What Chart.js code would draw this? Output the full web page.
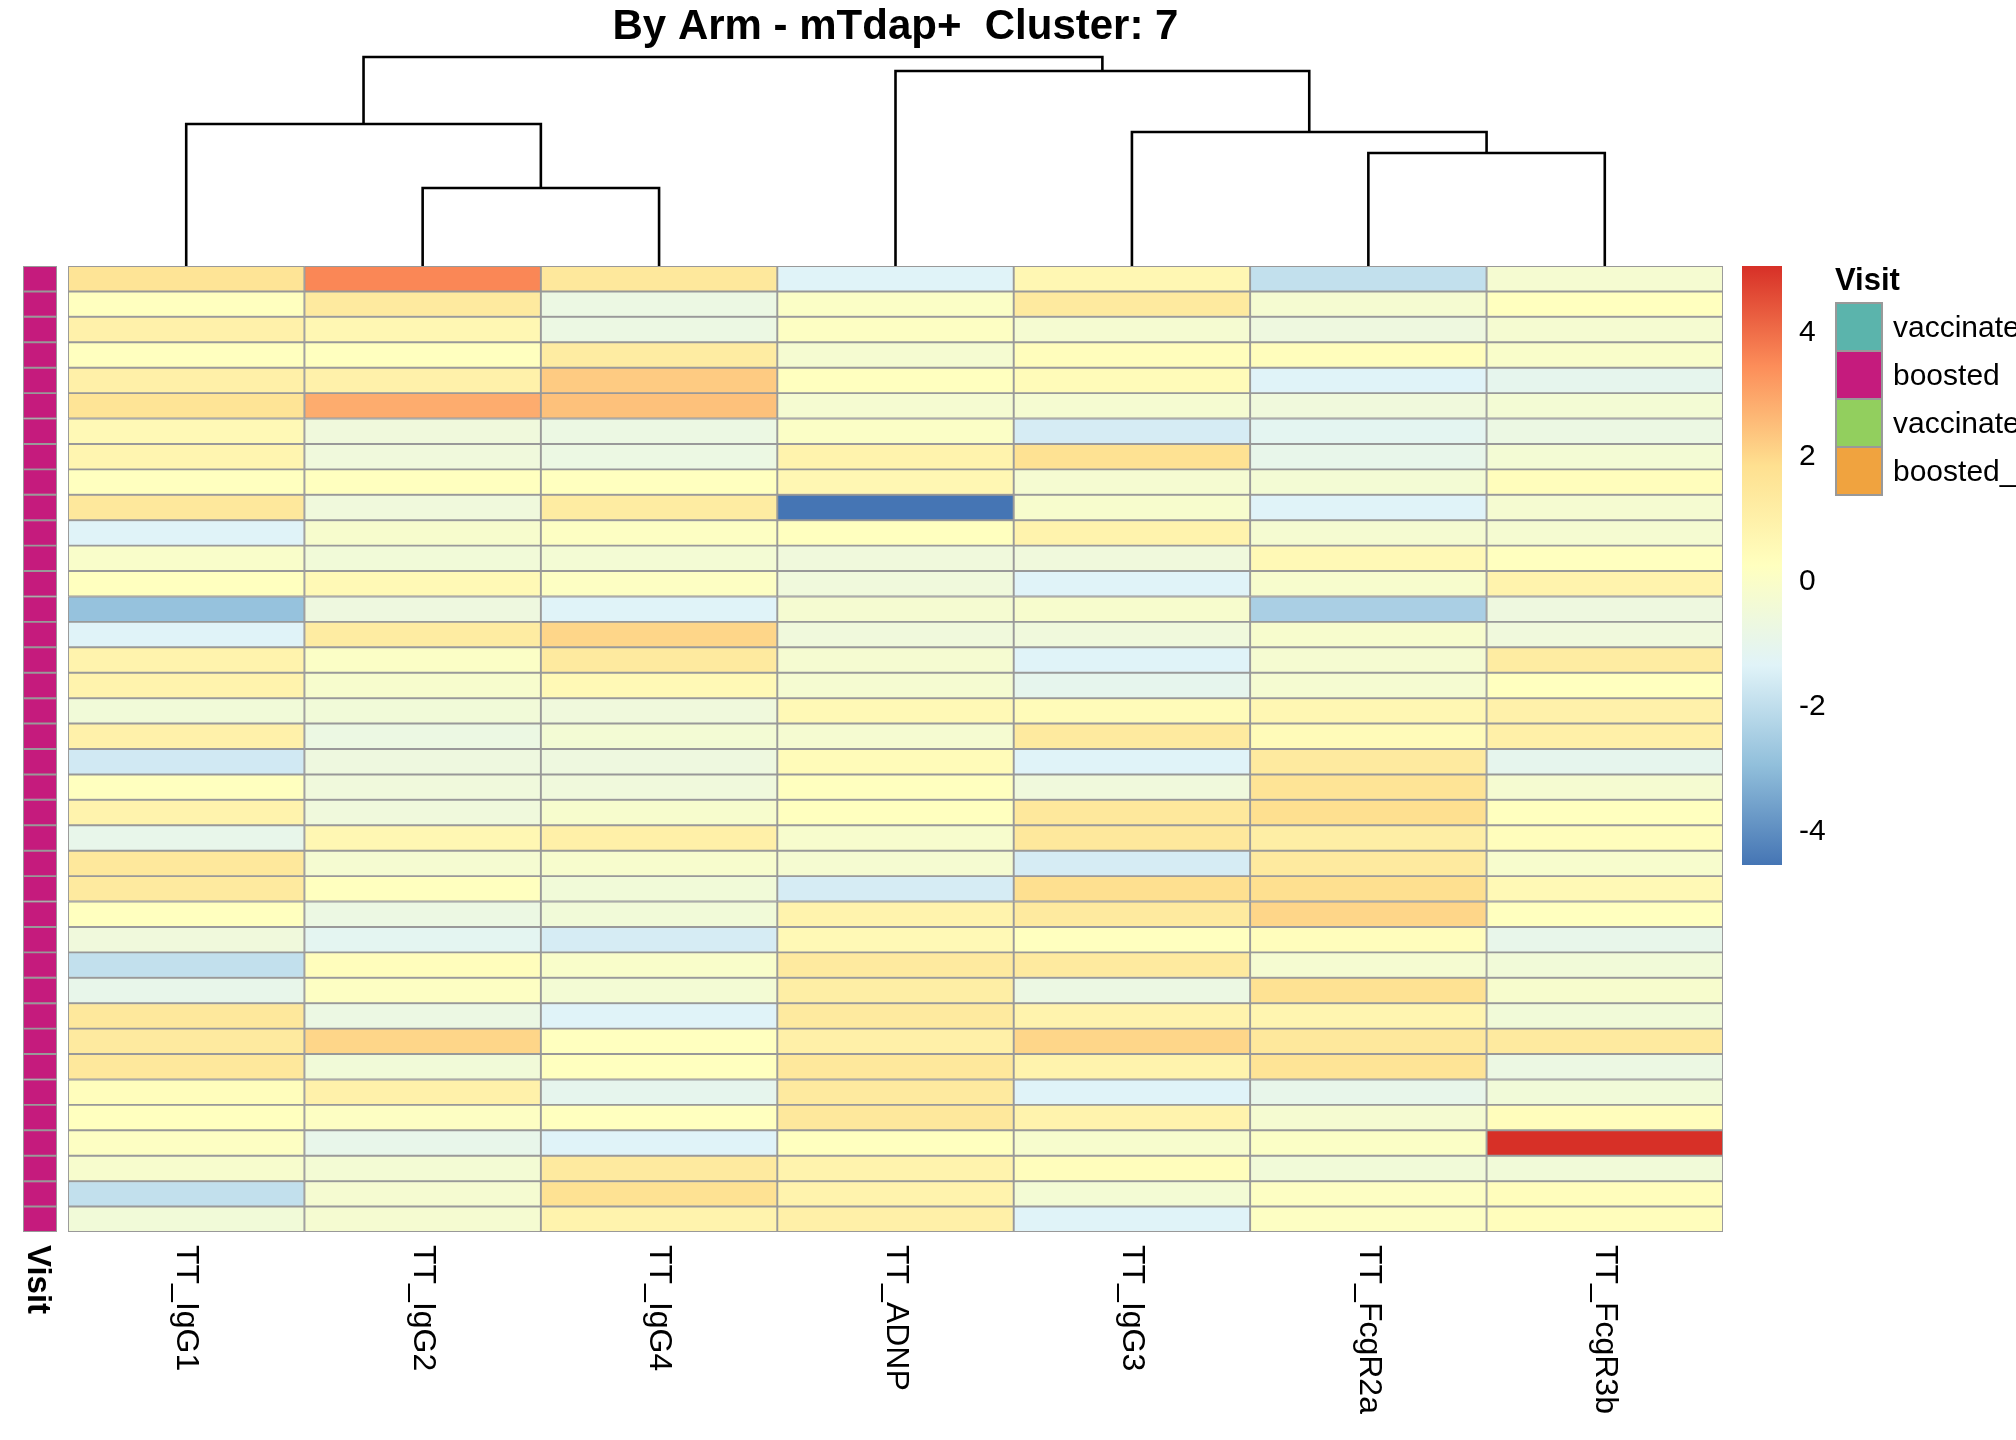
<!DOCTYPE html>
<html>
<head>
<meta charset="utf-8">
<title>By Arm - mTdap+ Cluster: 7</title>
<script src="https://cdn.jsdelivr.net/npm/chart.js@4.4.1/dist/chart.umd.min.js"></script>
<style>
  body { margin: 0; background: #fff; }
  #page {
    position: relative;
    width: 2016px;
    height: 1440px;
    overflow: hidden;
    font-family: 'Liberation Sans', Arial, sans-serif;
    color: #000;
  }
  canvas { position: absolute; }
  .legend-title { position: absolute; font-weight: bold; font-size: 31px; line-height: 38px; }
  .legend-box { position: absolute; width: 48px; height: 50px; box-sizing: border-box; border: 2px solid #999; }
  .legend-label { position: absolute; font-size: 30px; line-height: 36px; white-space: nowrap; }
</style>
</head>
<body>
<div id="page">
  <canvas id="dendro" width="1655" height="266" style="left:68px;top:0"></canvas>
  <canvas id="annot" width="68" height="1174" style="left:0;top:266px"></canvas>
  <canvas id="heat" width="1680" height="1174" style="left:60px;top:266px"></canvas>
  <canvas id="scale" width="110" height="620" style="left:1742px;top:266px"></canvas>
  <div id="legend"></div>
</div>
<script>
// column order as drawn (dendrogram leaf order)
const columns = ['TT_IgG1', 'TT_IgG2', 'TT_IgG4', 'TT_ADNP', 'TT_IgG3', 'TT_FcgR2a', 'TT_FcgR3b'];

// scaled values, one array per column, rows top to bottom
const ttIgG1 = [1.6, 0.2, 0.9, 0.2, 1.0, 1.6, 0.5, 0.7, 0.2, 1.4, -1.4, -0.1, 0.2, -2.9, -1.4, 0.8, 0.8, -0.5, 0.9,
  -1.7, 0.2, 0.8, -1.0, 1.4, 1.3, 0.2, -0.6, -2.0, -1.0, 1.4, 1.3, 1.4, 0.3, 0.2, 0.1, -0.2, -2.0, -0.5];
const ttIgG2 = [3.5, 1.3, 0.6, 0.2, 0.9, 2.8, -0.6, -0.6, 0.2, -0.6, -0.2, -0.5, 0.5, -0.7, 1.2, 0.0, -0.2, -0.5, -0.8,
  -0.7, -0.6, -0.6, 0.6, -0.3, 0.2, -0.8, -1.2, 0.3, 0.1, -0.8, 2.0, -0.5, 0.9, 0.1, -1.0, -0.4, -0.3, -0.3];
const ttIgG4 = [1.4, -0.8, -0.8, 1.2, 2.2, 2.4, -0.8, -0.8, 0.2, 1.2, 0.1, -0.4, 0.1, -1.4, 2.0, 1.3, 0.5, -0.6, -0.4,
  -0.7, -0.6, -0.2, 1.0, -0.2, -0.5, -0.5, -1.6, -0.1, -0.4, -1.4, 0.2, 0.2, -1.1, 0.2, -1.4, 1.3, 1.7, 0.8];
const ttADNP = [-1.4, 0.0, 0.1, -0.3, 0.2, -0.3, 0.0, 0.8, 0.6, -4.6, 0.2, -0.6, -0.6, -0.3, -0.6, -0.3, -0.3, 0.5, -0.3,
  0.4, 0.2, 0.2, -0.2, -0.3, -1.6, 0.8, 0.5, 1.3, 1.1, 1.3, 1.0, 1.4, 1.3, 1.4, 0.2, 0.8, 0.8, 1.0];
const ttIgG3 = [0.6, 1.3, -0.3, 0.3, 0.4, -0.3, -1.6, 1.7, -0.3, -0.2, 0.8, -0.6, -1.4, -0.2, -0.6, -1.4, -1.1, 0.4, 1.3,
  -1.4, -0.6, 1.4, 1.4, -1.6, 1.8, 1.3, 0.2, 1.3, -0.8, 0.8, 2.0, 0.8, -1.4, 0.8, -0.2, 0.3, -0.4, -1.4];
const ttFcgR2a = [-2.0, -0.3, -0.7, 0.3, -1.4, -0.6, -1.2, -1.0, -0.4, -1.4, -0.3, 0.5, -0.2, -2.5, -0.2, -0.3, -0.3, 0.6, 0.4,
  1.3, 1.6, 1.8, 1.1, 1.3, 1.8, 2.0, 0.3, -0.3, 1.7, 0.7, 1.4, 1.6, -1.0, -0.3, 0.0, -0.5, 0.1, 0.1];
const ttFcgR3b = [-0.3, 0.2, -0.3, -0.1, -1.1, -0.4, -0.8, -0.4, 0.3, -0.3, -0.3, 0.2, 0.8, -0.7, -0.6, 1.2, 0.2, 0.9, 1.0,
  -1.1, -0.3, 0.2, 0.3, -0.2, 0.5, 0.2, -1.0, -0.5, -0.2, -0.5, 1.3, -0.8, -0.5, 0.3, 5.0, -0.5, 0.3, 0.3];
const seriesByColumn = [ttIgG1, ttIgG2, ttIgG4, ttADNP, ttIgG3, ttFcgR2a, ttFcgR3b];

// row annotation
const visits = ['boosted', 'boosted', 'boosted', 'boosted', 'boosted', 'boosted', 'boosted', 'boosted',
  'boosted', 'boosted', 'boosted', 'boosted', 'boosted', 'boosted', 'boosted', 'boosted', 'boosted',
  'boosted', 'boosted', 'boosted', 'boosted', 'boosted', 'boosted', 'boosted', 'boosted', 'boosted',
  'boosted', 'boosted', 'boosted', 'boosted', 'boosted', 'boosted', 'boosted', 'boosted', 'boosted',
  'boosted', 'boosted', 'boosted'];
const visitLevels = ['vaccinated', 'boosted', 'vaccinated_2', 'boosted_2'];
const visitColors = ['#5BB4AC', '#C51B7D', '#92CF5E', '#F0A33F'];

// column dendrogram (hclust style: negative = leaf, positive = earlier merge)
const mergeLeft = [-2, -6, -5, -1, -4, 4];
const mergeRight = [-3, -7, 2, 1, 3, 5];
const mergeHeight = [78, 113, 134, 142, 195, 209];

// colour key
const colorTicks = [-4, -2, 0, 2, 4];
const palette = ['#4575B4', '#91BFDB', '#E0F3F8', '#FFFFBF', '#FEE090', '#FC8D59', '#D73027'];

const FONT = "'Liberation Sans', Arial, sans-serif";
Chart.defaults.font.family = FONT;
Chart.defaults.color = '#000';

const allValues = seriesByColumn.flat();
const colorMin = Math.min(...allValues);
const colorMax = Math.max(...allValues);

function hexToRgb(hex) {
  const n = parseInt(hex.slice(1), 16);
  return [(n >> 16) & 255, (n >> 8) & 255, n & 255];
}

function colorFor(v) {
  const t = (v - colorMin) / (colorMax - colorMin) * (palette.length - 1);
  const i = Math.max(0, Math.min(Math.floor(t), palette.length - 2));
  const f = Math.max(0, Math.min(1, t - i));
  const a = hexToRgb(palette[i]);
  const b = hexToRgb(palette[i + 1]);
  const c = a.map((ch, k) => Math.round(ch + (b[k] - ch) * f));
  return `rgb(${c[0]}, ${c[1]}, ${c[2]})`;
}

const baseOptions = {
  responsive: false,
  animation: false,
  devicePixelRatio: 1,
  events: [],
};

// heatmap: one stacked dataset per row
const heatChart = new Chart(document.getElementById('heat'), {
  type: 'bar',
  data: {
    labels: columns,
    datasets: visits.map((_, r) => ({
      data: columns.map(() => 1),
      backgroundColor: seriesByColumn.map(col => colorFor(col[r])),
      borderColor: '#999999',
      borderWidth: 1.3,
      borderSkipped: false,
      barPercentage: 1,
      categoryPercentage: 1,
    })),
  },
  options: {
    ...baseOptions,
    layout: {autoPadding: false, padding: {left: 8, right: 17, top: 0, bottom: 208}},
    scales: {
      x: {stacked: true, display: false},
      y: {stacked: true, display: false, reverse: true, min: 0, max: visits.length},
    },
    plugins: {legend: {display: false}, tooltip: {enabled: false}},
  },
  plugins: [{
    id: 'columnLabels',
    afterDraw(chart) {
      const {ctx, chartArea, scales: {x}} = chart;
      ctx.save();
      ctx.font = `32px ${FONT}`;
      ctx.fillStyle = '#000';
      ctx.textAlign = 'left';
      ctx.textBaseline = 'middle';
      columns.forEach((name, i) => {
        ctx.save();
        ctx.translate(x.getPixelForValue(i), chartArea.bottom + 13);
        ctx.rotate(Math.PI / 2);
        ctx.fillText(name, 0, 0);
        ctx.restore();
      });
      ctx.restore();
    },
  }],
});

// row annotation strip
const annotChart = new Chart(document.getElementById('annot'), {
  type: 'bar',
  data: {
    labels: ['Visit'],
    datasets: visits.map(v => ({
      data: [1],
      backgroundColor: visitColors[visitLevels.indexOf(v)],
      borderColor: '#999999',
      borderWidth: 1.3,
      borderSkipped: false,
      barPercentage: 1,
      categoryPercentage: 1,
    })),
  },
  options: {
    ...baseOptions,
    layout: {autoPadding: false, padding: {left: 23, right: 11, top: 0, bottom: 208}},
    scales: {
      x: {stacked: true, display: false},
      y: {stacked: true, display: false, reverse: true, min: 0, max: visits.length},
    },
    plugins: {legend: {display: false}, tooltip: {enabled: false}},
  },
  plugins: [{
    id: 'annotLabel',
    afterDraw(chart) {
      const {ctx, chartArea, scales: {x}} = chart;
      ctx.save();
      ctx.font = `bold 33px ${FONT}`;
      ctx.fillStyle = '#000';
      ctx.textAlign = 'left';
      ctx.textBaseline = 'middle';
      ctx.translate(x.getPixelForValue(0) - 3, chartArea.bottom + 13);
      ctx.rotate(Math.PI / 2);
      ctx.fillText('Visit', 0, 0);
      ctx.restore();
    },
  }],
});

// dendrogram segments built from the merge table
function nodeX(id) {
  if (id < 0) return -id - 1;
  return (nodeX(mergeLeft[id - 1]) + nodeX(mergeRight[id - 1])) / 2;
}
function nodeH(id) {
  return id < 0 ? 0 : mergeHeight[id - 1];
}

const dendroSets = mergeHeight.map((h, k) => {
  const l = mergeLeft[k];
  const r = mergeRight[k];
  return {
    data: [
      {x: nodeX(l), y: nodeH(l)},
      {x: nodeX(l), y: h},
      {x: nodeX(r), y: h},
      {x: nodeX(r), y: nodeH(r)},
    ],
    showLine: true,
    borderColor: '#000',
    borderWidth: 2.6,
    pointRadius: 0,
    tension: 0,
    clip: false,
  };
});

const dendroChart = new Chart(document.getElementById('dendro'), {
  type: 'scatter',
  data: {datasets: dendroSets},
  options: {
    ...baseOptions,
    layout: {autoPadding: false, padding: 0},
    scales: {
      x: {type: 'linear', min: -0.5, max: columns.length - 0.5, display: false},
      y: {type: 'linear', min: 0, max: Math.max(...mergeHeight), display: false},
    },
    plugins: {
      legend: {display: false},
      tooltip: {enabled: false},
      title: {
        display: true,
        text: 'By Arm - mTdap+  Cluster: 7',
        color: '#000',
        font: {size: 42, weight: 'bold', lineHeight: 1.2},
        padding: {top: 2, bottom: 4.6},
      },
    },
  },
});

// colour key
const scaleChart = new Chart(document.getElementById('scale'), {
  type: 'bar',
  data: {
    labels: ['key'],
    datasets: [{
      data: [[colorMin, colorMax]],
      backgroundColor(context) {
        const {chart} = context;
        if (!chart.chartArea) return palette[3];
        const y = chart.scales.y;
        const g = chart.ctx.createLinearGradient(0, y.getPixelForValue(colorMin), 0, y.getPixelForValue(colorMax));
        palette.forEach((c, i) => g.addColorStop(i / (palette.length - 1), c));
        return g;
      },
      borderWidth: 0,
      barPercentage: 1,
      categoryPercentage: 1,
    }],
  },
  options: {
    ...baseOptions,
    layout: {autoPadding: false, padding: {left: 0, right: 70, top: 0, bottom: 21}},
    scales: {
      x: {display: false},
      y: {display: false, min: colorMin, max: colorMax},
    },
    plugins: {legend: {display: false}, tooltip: {enabled: false}},
  },
  plugins: [{
    id: 'keyTicks',
    afterDraw(chart) {
      const {ctx, chartArea, scales: {y}} = chart;
      ctx.save();
      ctx.font = `30px ${FONT}`;
      ctx.fillStyle = '#000';
      ctx.textAlign = 'left';
      ctx.textBaseline = 'middle';
      colorTicks.forEach(v => ctx.fillText(String(v), chartArea.right + 17, y.getPixelForValue(v) + 4));
      ctx.restore();
    },
  }],
});

// annotation legend
const legend = document.getElementById('legend');
const lgTitle = document.createElement('div');
lgTitle.className = 'legend-title';
lgTitle.style.left = '1835px';
lgTitle.style.top = '261px';
lgTitle.textContent = 'Visit';
legend.appendChild(lgTitle);
visitLevels.forEach((level, k) => {
  const box = document.createElement('div');
  box.className = 'legend-box';
  box.style.left = '1835px';
  box.style.top = `${302 + 48 * k}px`;
  box.style.background = visitColors[k];
  legend.appendChild(box);

  const label = document.createElement('div');
  label.className = 'legend-label';
  label.style.left = '1893px';
  label.style.top = `${302 + 48 * k + 25 - 18}px`;
  label.textContent = level;
  legend.appendChild(label);
});
</script>
</body>
</html>
